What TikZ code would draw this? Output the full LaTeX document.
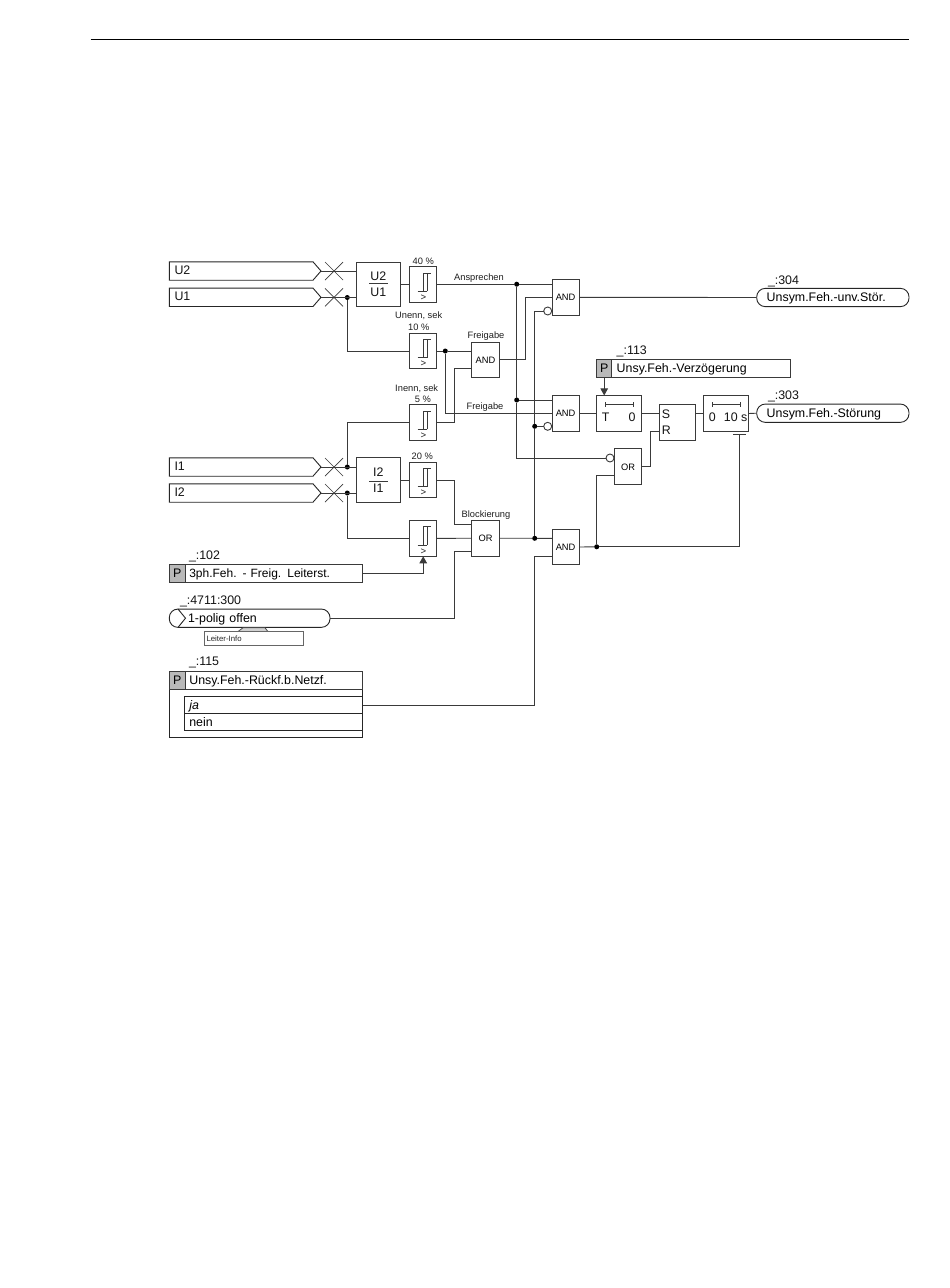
\documentclass[tikz,border=0pt]{standalone}
\usepackage{fontspec}
\setmainfont{Liberation Sans}
\usetikzlibrary{arrows.meta,calc}
\definecolor{ln}{HTML}{3A3A3A}
\definecolor{cell}{HTML}{B9B9B9}
\newcommand{\bigf}{\fontsize{12.4}{14}\selectfont}
\newcommand{\smf}{\fontsize{9.3}{11}\selectfont}
\tikzset{
 every node/.style={outer sep=0pt},
 line/.style={draw=ln,line width=0.9pt},
 box/.style={draw=ln,line width=1pt,fill=white,rectangle,inner sep=0pt,minimum width=27.2pt,minimum height=35.7pt},
 gatebox/.style={box,font=\smf},
 lbl/.style={inner sep=0pt,font=\smf,text=black!88},
 biglbl/.style={inner sep=0pt,font=\bigf,text=black!92,text height=10pt,text depth=2pt},
 pill/.style={draw=black!85,line width=0.9pt,rectangle,rounded corners=8.6pt,minimum height=18.3pt,inner ysep=0pt,inner xsep=0pt,font=\bigf,align=left,anchor=west,fill=white,text height=10.2pt,text depth=1.8pt},
 pcell/.style={draw=ln,line width=1pt,fill=cell,rectangle,inner sep=0pt,minimum height=18.3pt,font=\bigf,anchor=west,text height=10.2pt,text depth=1.8pt},
 pbar/.style={draw=ln,line width=1pt,fill=white,rectangle,inner ysep=0pt,inner xsep=0pt,minimum height=18.3pt,font=\bigf,align=left,anchor=west,text height=10.2pt,text depth=1.8pt},
 jd/.style={circle,fill=black,inner sep=0pt,minimum size=5pt},
 inv/.style={circle,draw=ln,line width=0.9pt,fill=white,inner sep=0pt,minimum size=8pt},
 ar/.style={line,-{Triangle[length=7pt,width=7.5pt]}},
}
% threshold block: name, centre y
\newcommand{\thr}[2]{%
 \node[box] (#1) at (423.2,#2) {};
 \begin{scope}[shift={(409.6,#2-17.85)}]
  \draw[ln,line width=0.8pt] (8,24.5) -- (17.5,24.5) (14,24.5) -- (14,6) -- (21,6) (17.5,24.5) -- (17.5,6);
  \node[lbl,font=\fontsize{9.6}{10}\selectfont] (#1s) at (13.8,31) {>};
 \end{scope}}
% input signal: name, centre y, text
\newcommand{\sigin}[3]{%
 \draw[line,draw=black!85,fill=white] (169.3,#2-9.2) -- (313,#2-9.2) -- (321,#2) -- (313,#2+9.2) -- (169.3,#2+9.2) -- cycle;
 \node[biglbl,anchor=west] (#1) at (174.5,#2-0.6) {#3};
 \coordinate (#1tip) at (321,#2);
 \draw[ln,line width=0.7pt] (325,#2-9) -- (343,#2+9) (325,#2+9) -- (343,#2-9);}
\begin{document}
\begin{tikzpicture}[x=1pt,y=-1pt]
\useasboundingbox (0,0) rectangle (950,1288);
\fill[white] (0,0) rectangle (950,1288);
\draw[black,line width=1pt] (90.5,39) -- (908.5,39);

% inputs
\sigin{uz}{271}{U2}
\sigin{ue}{297.3}{U1}
\sigin{ie}{467}{I1}
\sigin{iz}{493}{I2}

% ratio boxes
\node[box,minimum width=43.7pt,minimum height=44.7pt] (uratio) at (378.8,284.4) {};
\node[biglbl] (uratiot) at (378.3,276) {U2};
\node[biglbl] (uratiob) at (378.3,292.4) {U1};
\draw[line,line width=0.8pt] (369.3,283.5) -- (388.3,283.5);
\node[box,minimum width=43.7pt,minimum height=44.7pt] (iratio) at (378.8,480) {};
\node[biglbl] (iratiot) at (378.3,472.6) {I2};
\node[biglbl] (iratiob) at (378.3,488.6) {I1};
\draw[line,line width=0.8pt] (369.3,481) -- (388.3,481);

% thresholds
\thr{thu}{284.8}
\thr{thz}{351}
\thr{thf}{422.8}
\thr{thn}{480}
\thr{thv}{538.4}
\node[lbl] (t40) at (423.3,261) {40 \%};
\node[lbl] (tun) at (418.7,315.6) {Unenn, sek};
\node[lbl] (t10) at (418.7,327) {10 \%};
\node[lbl] (tin) at (416.7,389) {Inenn, sek};
\node[lbl] (t5) at (423,399) {5 \%};
\node[lbl] (t20) at (422.3,456) {20 \%};

% gates
\node[gatebox] (fand) at (485.5,360) {AND};
\node[lbl] (ffrei) at (486,336) {Freigabe};
\node[gatebox] (bor) at (485.5,538.2) {OR};
\node[lbl] (bblk) at (486,514.7) {Blockierung};
\node[gatebox] (and1) at (565.6,297.3) {AND};
\node[gatebox] (and2) at (565.6,413.3) {AND};
\node[gatebox] (and3) at (565.6,547) {AND};
\node[gatebox] (or2) at (628,466.8) {OR};
\node[lbl] (lansp) at (479,278) {Ansprechen};
\node[lbl] (lfrei) at (485,407) {Freigabe};

% timers
\node[box,minimum width=44.7pt] (tm) at (619,413.3) {};
\node[biglbl] (tmt) at (605.6,417) {T};
\node[biglbl] (tmz) at (632,417) {0};
\draw[line,line width=0.7pt] (605,404.4) -- (633.3,404.4) (605,402) -- (605,406.8) (633.3,402) -- (633.3,406.8);
\node[box,minimum width=35.7pt] (sr) at (677.2,422.3) {};
\node[biglbl] (srs) at (666,414.4) {S};
\node[biglbl] (srr) at (666.3,430) {R};
\node[box,minimum width=45pt] (dly) at (726.2,413.5) {};
\node[biglbl] (dlyz) at (712.3,417.6) {0};
\node[biglbl] (dlyt) at (735.7,417.6) {10 s};
\draw[line,line width=0.7pt] (712.7,404.6) -- (740,404.6) (712.7,402.2) -- (712.7,407) (740,402.2) -- (740,407);

% outputs
\node[pill,minimum width=152.3pt,text width=132.3pt,inner xsep=10pt] (ounv) at (756.7,297.5) {Unsym.Feh.-unv.Stör.};
\node[pill,minimum width=152.3pt,text width=132.3pt,inner xsep=10pt] (ost) at (756.7,413.2) {Unsym.Feh.-Störung};
\node[biglbl,anchor=west] (l304) at (768,280) {\_:304};
\node[biglbl,anchor=west] (l303) at (768,395) {\_:303};

% parameters
\node[pbar,minimum width=193.3pt,text width=183.3pt,inner xsep=5pt] (p113) at (596.7,368.5) {\hspace*{15pt}Unsy.Feh.-Verzögerung};
\node[pcell,minimum width=15pt] (p113p) at (596.7,368.5) {P};
\node[biglbl,anchor=west] (l113) at (616.7,350) {\_:113};

\node[pbar,minimum width=193.4pt,text width=183.4pt,inner xsep=5pt,font=\fontsize{12}{14}\selectfont] (p102) at (169.3,573.7) {\hspace*{15pt}3ph.Feh. - Freig. Leiterst.};
\node[pcell,minimum width=15.7pt] (p102p) at (169.3,573.7) {P};
\node[biglbl,anchor=west] (l102) at (189,555) {\_:102};

% 1-polig offen
\node[pill,minimum width=160.7pt,text width=140.7pt,inner xsep=10pt] (pol) at (169.3,618.2) {\hspace*{8.8pt}1-polig offen};
\draw[black!85,line width=0.9pt] (178,609) -- (185.5,618.2) -- (178,627.4);
\node[biglbl,anchor=west] (l4711) at (180,600.7) {\_:4711:300};
\draw[black!70,line width=0.8pt,fill=black!18] (237.3,632) -- (243,627.8) -- (265,627.8) -- (268.3,632) -- cycle;
\node[draw=black!60,line width=1pt,fill=white,rectangle,inner sep=0pt,minimum width=98.6pt,minimum height=14.3pt,anchor=west,font=\fontsize{7.8}{9}\selectfont,text=black!85,align=left,text width=95pt] (leit) at (204.7,638.8) {Leiter-Info};

% parameter 115 with choices
\draw[line,draw=black!85] (169.3,680) -- (169.3,737) -- (362.7,737) -- (362.7,680);
\node[pbar,minimum width=193.4pt,text width=183.4pt,inner xsep=5pt] (p115) at (169.3,680.7) {\hspace*{15pt}Unsy.Feh.-Rückf.b.Netzf.};
\node[pcell,minimum width=15.7pt] (p115p) at (169.3,680.7) {P};
\node[biglbl,anchor=west] (l115) at (189,661.7) {\_:115};
\node[draw=black!85,line width=0.9pt,fill=white,rectangle,inner ysep=0pt,inner xsep=5pt,minimum height=17.2pt,minimum width=178.4pt,text width=168.4pt,align=left,anchor=west,font=\bigf,text height=10pt,text depth=2pt] (cja) at (184.3,705) {\itshape ja};
\node[draw=black!85,line width=0.9pt,fill=white,rectangle,inner ysep=0pt,inner xsep=5pt,minimum height=17.5pt,minimum width=178.4pt,text width=168.4pt,align=left,anchor=west,font=\bigf,text height=10pt,text depth=2pt] (cne) at (184.3,722) {nein};

% pins and junctions
\coordinate (and1a) at (552,284.2);
\coordinate (and1b) at (552,297.3);
\node[inv] (and1c) at (547.7,311) {};
\coordinate (and2a) at (552,400);
\coordinate (and2b) at (552,413.3);
\node[inv] (and2c) at (547.7,426.3) {};
\coordinate (and3a) at (552,538.3);
\coordinate (and3b) at (552,556);
\node[inv] (ora) at (610,458) {};
\coordinate (orb) at (614.3,475.7);
\coordinate (fandb) at (472,368);
\coordinate (fanda) at (472,351);
\coordinate (bora) at (472,524.7);
\coordinate (borb) at (472,551);
\coordinate (srpin) at (659.3,431.3);
\node[jd] (ju) at (347.3,297.5) {};
\node[jd] (ji1) at (347.3,467) {};
\node[jd] (ji2) at (347.3,493) {};
\node[jd] (jz) at (445.3,351) {};
\node[jd] (ja) at (516.7,284.2) {};
\node[jd] (jb) at (516.7,400) {};
\node[jd] (jc) at (534.7,426.3) {};
\node[jd] (jd1) at (534.7,538.3) {};
\node[jd] (je) at (596.7,546.8) {};

% connectors
\draw[line] (uztip) -- (uratio.west |- uztip);
\draw[line] (uetip) -- (uratio.west |- uetip);
\draw[line] (ietip) -- (iratio.west |- ietip);
\draw[line] (iztip) -- (iratio.west |- iztip);
\draw[line] (uratio.east |- thu) -- (thu.west);
\draw[line] (iratio.east |- thn) -- (thn.west);
\draw[line] (ju) |- (thz.west);
\draw[line] (ji1) |- (thf.west);
\draw[line] (ji2) |- (thv.west);
\draw[line] (thu.east |- ja) -- (ja) -- (and1a);
\draw[line] (thz.east) -- (jz) -- (fanda);
\draw[line] (jz) |- (and2b);
\draw[line] (thf.east) -| ($(fandb)+(-17.7,0)$) -- (fandb);
\draw[line] (fand.east |- 0,359.3) -| ($(and1b)+(-26.7,0)$) -- (and1b);
\draw[line] (ja) -- (jb);
\draw[line] (jb) -- (and2a);
\draw[line] (jb) |- (ora.west);
\draw[line] (jc) -- (and2c.west);
\draw[line] (and1c.west) -| (jc);
\draw[line] (jc) -- (jd1);
\draw[line] (bor.east) -- (jd1) -- (and3a);
\draw[line] (cja.east) -| ($(and3b)+(-17.3,0)$) -- (and3b);
\draw[line] (thn.east) -| ($(bora)+(-17.7,0)$) -- (bora);
\draw[line] (thv.east) -- (bor.west);
\draw[line] (pol.east) -| ($(borb)+(-17.7,0)$) -- (borb);
\draw[ar] (p102.east) -| (thv.south);
\draw[ar] (p113p.south |- 0,377.7) -- (p113p.south |- tm.north);
\draw[line] (and1.east) -- (ounv.west);
\draw[line] (and2.east) -- (tm.west);
\draw[line] (tm.east) -- (sr.west |- tm.east);
\draw[line] (sr.east |- dly.west) -- (dly.west);
\draw[line] (dly.east) -- (ost.west);
\draw[line] (and3.east) -- (je);
\draw[line] (je) |- (orb);
\draw[line] (or2.east) -| ($(srpin)+(-9,0)$) -- (srpin);
\draw[line] (je) -| (739.3,434.3);
\draw[line,line width=0.8pt] (733,434.3) -- (746,434.3);
\end{tikzpicture}
\end{document}
